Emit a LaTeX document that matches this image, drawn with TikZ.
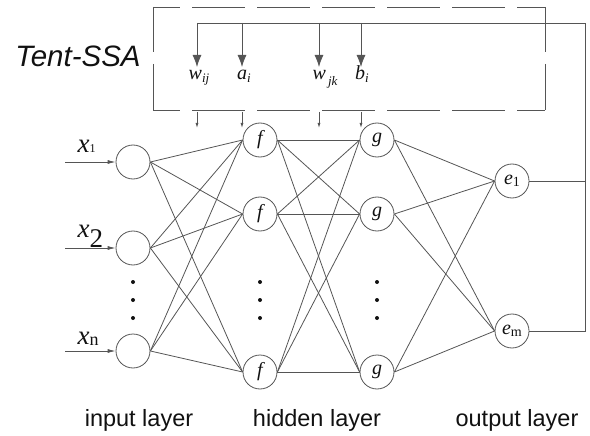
\documentclass[tikz,border=0pt]{standalone}
\usepackage{fontspec}
\setmainfont{Liberation Serif}
\setsansfont{Liberation Sans}
\usetikzlibrary{arrows.meta}
\definecolor{wire}{HTML}{555555}
\definecolor{ink}{HTML}{111111}
\newcommand{\lowsub}[3]{\raisebox{-#1}{\fontsize{#2}{#2}\selectfont #3}}

\begin{document}
\begin{tikzpicture}[x=1pt, y=-1pt, line width=0.8pt, draw=wire, text=ink,
    neuron/.style={circle, draw=wire, minimum size=34pt, inner sep=0pt,
                   font=\fontsize{20}{20}\selectfont\itshape},
    link/.style={draw=wire},
    feed/.style={draw=wire, -{Latex[length=12pt, width=9pt]}},
    tick/.style={draw=wire, -{Latex[length=5pt, width=3pt]}},
    boxside/.style={draw=wire, dash pattern=on 53pt off 12pt},
    param/.style={anchor=base, font=\fontsize{20}{20}\selectfont\itshape},
    layername/.style={anchor=base, font=\sffamily\fontsize{23.5}{24}\selectfont}]
  \useasboundingbox (0,0) rectangle (590,436);

  % The optimiser box (dashed).
  \coordinate (bnw) at (153,7);
  \coordinate (bne) at (545,7);
  \coordinate (bsw) at (153,110);
  \coordinate (bse) at (545,110);
  \draw[boxside, dash phase=26pt] (bnw) -- (bne);
  \draw[boxside, dash phase=26pt] (bsw) -- (bse);
  \draw[boxside, dash phase=8pt] (bnw) -- (bsw);
  \draw[boxside, dash phase=8pt] (bne) -- (bse);
  \node[anchor=base, font=\sffamily\itshape\fontsize{29.5}{30}\selectfont] (tssa) at (78,67) {Tent-SSA};

  % Input layer.
  \foreach \i/\y in {1/162, 2/248, 3/351} {
    \node[neuron] (in\i) at (133,\y) {};
    \coordinate (src\i) at (65,\y);
    \draw[tick, -{Latex[length=8pt, width=4pt]}] (src\i) -- (in\i.west);
  }
  \node[anchor=base west, font=\fontsize{27}{27}\selectfont\itshape] (lx1) at (74,153)
    {x\lowsub{0pt}{12}{\upshape 1}};
  \node[anchor=base west, font=\fontsize{27}{27}\selectfont\itshape] (lx2) at (74,237)
    {x\lowsub{10pt}{27}{\upshape 2}};
  \node[anchor=base west, font=\fontsize{27}{27}\selectfont\itshape] (lx3) at (74,344)
    {x\lowsub{1pt}{18}{\upshape n}};

  % Hidden layers.
  \foreach \i/\y in {1/140, 2/214, 3/372} {
    \node[neuron] (f\i) at (260,\y) {f};
    \node[neuron] (g\i) at (377,\y) {g};
  }

  % Output layer.
  \node[neuron] (e1) at (512,181) {e\lowsub{2pt}{14}{\upshape 1}};
  \node[neuron] (e2) at (512,331) {e\lowsub{2pt}{14}{\upshape m}};

  % Vertical dots.
  \foreach \x in {133, 260, 377}
    \foreach \y in {282, 300, 318}
      \fill[ink] (\x,\y) circle (2pt);

  % Full connections between layers.
  \foreach \i in {1,2,3}
    \foreach \j in {1,2,3} {
      \draw[link] (in\i.east) -- (f\j.west);
      \draw[link] (f\i.east) -- (g\j.west);
    }
  \foreach \i in {1,2,3}
    \foreach \j in {1,2}
      \draw[link] (g\i.east) -- (e\j.west);

  % Feedback from the outputs to the optimiser.
  \coordinate (fbtop) at (585,23);
  \coordinate (fbe1) at (585,181);
  \coordinate (fbe2) at (585,331);
  \draw[link] (e1.east) -- (fbe1);
  \draw[link] (e2.east) -- (fbe2) -- (fbtop) -- (197,23);
  \foreach \x/\name in {197/wij, 242/ai, 319/wjk, 361/bi} {
    \coordinate (top\name) at (\x,23);
    \coordinate (tip\name) at (\x,67);
    \draw[feed] (top\name) -- (tip\name);
    \coordinate (out\name) at (\x,112);
    \coordinate (end\name) at (\x,128);
    \draw[tick] (out\name) -- (end\name);
  }
  \node[param] (pwij) at (199,80) {w\lowsub{3pt}{13}{ij}};
  \node[param] (pai) at (244,80) {a\lowsub{3pt}{13}{i}};
  \node[param] (pwjk) at (325,80) {w\lowsub{6pt}{13}{\,jk}};
  \node[param] (pbi) at (362,80) {b\lowsub{3pt}{13}{i}};

  % Layer names.
  \node[layername] (nin) at (139,426) {input layer};
  \node[layername] (nhid) at (317,426) {hidden layer};
  \node[layername] (nout) at (517,426) {output layer};
\end{tikzpicture}
\end{document}
